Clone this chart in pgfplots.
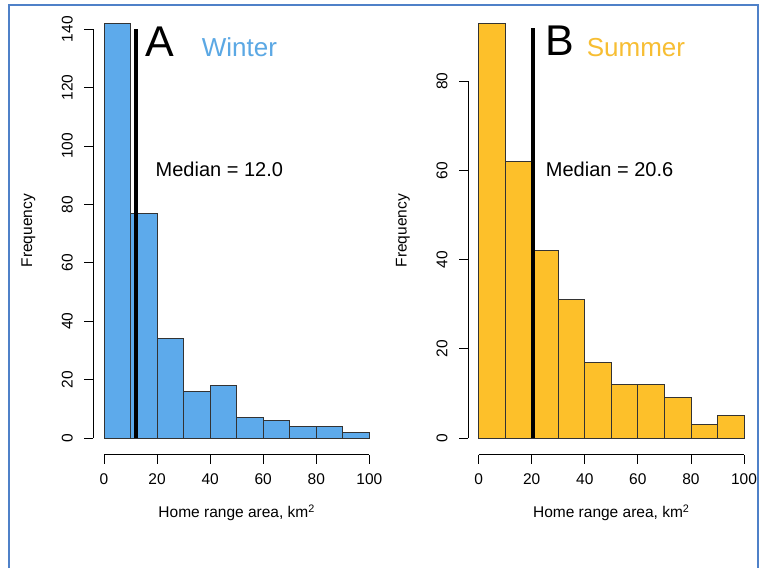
\documentclass[border=0pt]{standalone}
\usepackage{fontspec}
\setmainfont{Liberation Sans}
\usepackage{pgfplots}
\pgfplotsset{compat=1.18}
\definecolor{wblue}{HTML}{5DAAEB}
\definecolor{sgold}{HTML}{FDC02A}
\definecolor{wtext}{HTML}{5BA8E4}
\definecolor{stext}{HTML}{F7BE33}
\definecolor{frameblue}{HTML}{4F81C8}
\begin{document}
\begin{tikzpicture}
\useasboundingbox (0pt,0pt) rectangle (765pt,568pt);
\fill[white] (0pt,0pt) rectangle (765pt,568pt);
\draw[frameblue, line width=2pt] (9pt,0pt) -- (9pt,563pt) -- (758pt,563pt) -- (758pt,0pt);
\pgfplotsset{
  rstyle/.style={
    scale only axis, width=286.6pt, height=447.8pt, anchor=south west,
    clip=false,
    axis line style={draw=none},
    tick align=outside, major tick length=9pt,
    tick style={black, line width=0.8pt},
    tick pos=left,
    xmin=-4, xmax=104,
    xtick={0,20,40,60,80,100},
    /pgf/number format/assume math mode=true,
    ticklabel style={font=\fontsize{15.5}{17}\selectfont},
    yticklabel style={rotate=90, anchor=south},
    yticklabel shift=8pt,
    xticklabel shift=7pt,
    xlabel={Home range area, km\textsuperscript{2}},
    ylabel={Frequency},
    label style={font=\fontsize{15.5}{17}\selectfont},
    xlabel style={at={(axis description cs:0.5,-0.1295)}, anchor=center},
    ylabel style={at={(axis description cs:-0.2268,0.5)}, anchor=center},
  }
}
\begin{axis}[rstyle, at={(93.4pt,113.4pt)}, ymin=-5.68, ymax=147.68, ytick={0,20,...,140}]
\draw[black, line width=0.8pt] (axis cs:0,-5.68) -- (axis cs:100,-5.68);
\draw[black, line width=0.8pt] (axis cs:-4,0) -- (axis cs:-4,140);
\addplot[ybar, bar width=10, bar shift=0pt, fill=wblue, draw=black!80, line width=0.8pt]
  coordinates {(5,142) (15,77) (25,34) (35,16) (45,18) (55,7) (65,6) (75,4) (85,4) (95,2)};
\addplot[black, line width=4pt] coordinates {(12,0) (12,140)};
\node[font=\fontsize{43}{45}\selectfont, anchor=base west, inner sep=0pt] at (axis cs:15.5,130.6) {A};
\node[font=\fontsize{26}{28}\selectfont, text=wtext, anchor=base west, inner sep=0pt] at (axis cs:36.8,130.6) {Winter};
\node[font=\fontsize{20}{22}\selectfont, anchor=base west, inner sep=0pt] at (axis cs:19.4,89.5) {Median = 12.0};
\end{axis}
\begin{axis}[rstyle, at={(468pt,113.4pt)}, ymin=-3.72, ymax=96.72, ytick={0,20,...,80}]
\draw[black, line width=0.8pt] (axis cs:0,-3.72) -- (axis cs:100,-3.72);
\draw[black, line width=0.8pt] (axis cs:-4,0) -- (axis cs:-4,80);
\addplot[ybar, bar width=10, bar shift=0pt, fill=sgold, draw=black!80, line width=0.8pt]
  coordinates {(5,93) (15,62) (25,42) (35,31) (45,17) (55,12) (65,12) (75,9) (85,3) (95,5)};
\addplot[black, line width=4pt] coordinates {(20.6,0) (20.6,92)};
\node[font=\fontsize{43}{45}\selectfont, anchor=base west, inner sep=0pt] at (axis cs:25,85.8) {B};
\node[font=\fontsize{26}{28}\selectfont, text=stext, anchor=base west, inner sep=0pt] at (axis cs:40.7,85.5) {Summer};
\node[font=\fontsize{20}{22}\selectfont, anchor=base west, inner sep=0pt] at (axis cs:25.3,58.7) {Median = 20.6};
\end{axis}
\end{tikzpicture}
\end{document}
